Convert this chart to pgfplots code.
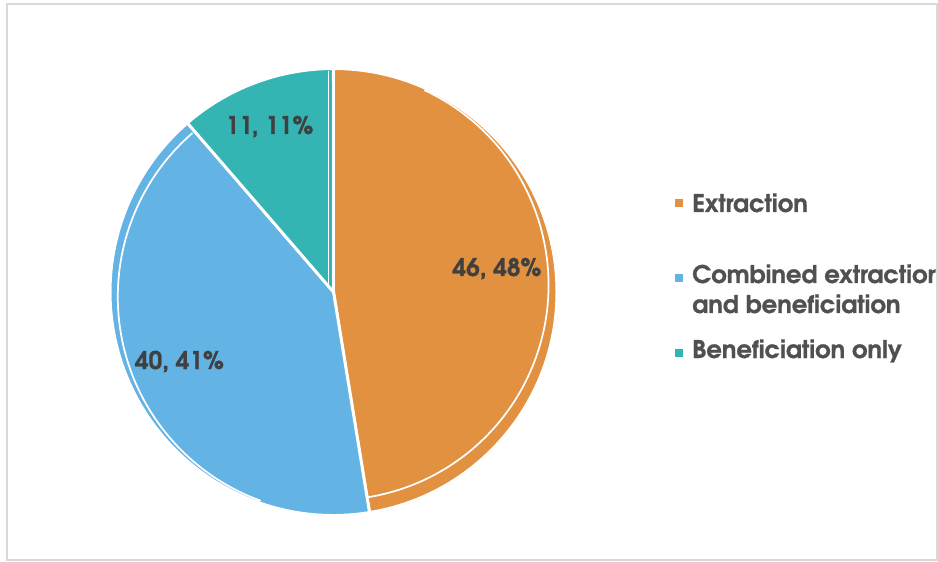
\documentclass[border=0pt]{standalone}
\usepackage{pgfplots}
\usepackage{pgfplotstable}
\pgfplotsset{compat=1.18}
\usepackage{fontspec}
\setmainfont{texgyreadventor}[Extension=.otf, UprightFont=*-regular, BoldFont=*-bold, ItalicFont=*-italic, BoldItalicFont=*-bolditalic, BoldFeatures={FakeBold=0.9}]

\definecolor{orng}{HTML}{E29140}
\definecolor{blu}{HTML}{63B3E4}
\definecolor{tea}{HTML}{34B4B2}
\definecolor{labc}{HTML}{404040}
\definecolor{legc}{HTML}{505050}
\definecolor{framec}{HTML}{D9D9D9}

\pgfplotstableread[col sep=comma]{
name,value,pct
Extraction,46,48
Combined extraction and beneficiation,40,41
Beneficiation only,11,11
}\piedata

\begin{document}%
\begin{tikzpicture}
\pgfplotstablegetelem{0}{value}\of\piedata \edef\va{\pgfplotsretval}
\pgfplotstablegetelem{1}{value}\of\piedata \edef\vb{\pgfplotsretval}
\pgfplotstablegetelem{2}{value}\of\piedata \edef\vc{\pgfplotsretval}
\pgfplotstablegetelem{0}{pct}\of\piedata \edef\pa{\pgfplotsretval}
\pgfplotstablegetelem{1}{pct}\of\piedata \edef\pb{\pgfplotsretval}
\pgfplotstablegetelem{2}{pct}\of\piedata \edef\pc{\pgfplotsretval}
\pgfmathsetmacro\tot{\va+\vb+\vc}
\pgfmathsetmacro\aA{90-360*(\va/\tot)}
\pgfmathsetmacro\aB{\aA-360*(\vb/\tot)}
\pgfmathsetmacro\aC{\aB-360*(\vc/\tot)}
\def\R{167.6pt}
\def\ft{\fontsize{18.2}{22}\selectfont\bfseries}
\begin{axis}[width=703.5pt,height=420.75pt,scale only axis,
  xmin=0,xmax=938,ymin=0,ymax=561,hide axis,clip=false]
\addplot[draw=none] coordinates {(0,0) (938,561)};
% frame
\draw[framec, line width=1.1pt] (axis cs:7,557) rectangle (axis cs:937,1);
% slices
\fill[orng,draw=white,line width=2.2pt,line join=round] (axis cs:333.5,269) -- ++(90:\R) arc[start angle=90,end angle=\aA,radius=\R] -- cycle;
\fill[blu,draw=white,line width=2.2pt,line join=round] (axis cs:333.5,269) -- ++(\aA:\R) arc[start angle=\aA,end angle=\aB,radius=\R] -- cycle;
\fill[tea,draw=white,line width=2.2pt,line join=round] (axis cs:333.5,269) -- ++(\aB:\R) arc[start angle=\aB,end angle=\aC,radius=\R] -- cycle;
% bevel lines
\draw[white,line width=1.3pt] (axis cs:333.5,276) ++(65:161.25pt) arc[start angle=65,end angle=\aA,radius=161.25pt];
\draw[white,line width=1.3pt] (axis cs:334.8,264.2) ++(131:162.75pt) arc[start angle=131,end angle=250,radius=162.75pt];
\draw[white,line width=1.3pt] (axis cs:328.5,275) -- (axis cs:328.5,490);
% data labels
\node[anchor=base,inner sep=0pt,text=labc,font=\ft] at (axis cs:497,285) {\va, \pa\%};
\node[anchor=base,inner sep=0pt,text=labc,font=\ft] at (axis cs:179.5,192) {\vb, \pb\%};
\node[anchor=base,inner sep=0pt,text=labc,font=\ft] at (axis cs:269.5,427) {\vc, \pc\%};
% legend
\fill[orng] (axis cs:675,354) rectangle (axis cs:683,362);
\fill[blu] (axis cs:675,279) rectangle (axis cs:683,287);
\fill[tea] (axis cs:675,204) rectangle (axis cs:683,212);
\begin{scope}
\clip (axis cs:660,0) rectangle (axis cs:935.5,561);
\node[anchor=base west,inner sep=0pt,text=legc,font=\ft] at (axis cs:692,349) {Extraction};
\node[anchor=base west,inner sep=0pt,text=legc,font=\ft] at (axis cs:692,278) {Combined extraction};
\node[anchor=base west,inner sep=0pt,text=legc,font=\ft] at (axis cs:692,248) {and beneficiation};
\node[anchor=base west,inner sep=0pt,text=legc,font=\ft] at (axis cs:692,203) {Beneficiation only};
\end{scope}
\end{axis}
\end{tikzpicture}%
\end{document}
